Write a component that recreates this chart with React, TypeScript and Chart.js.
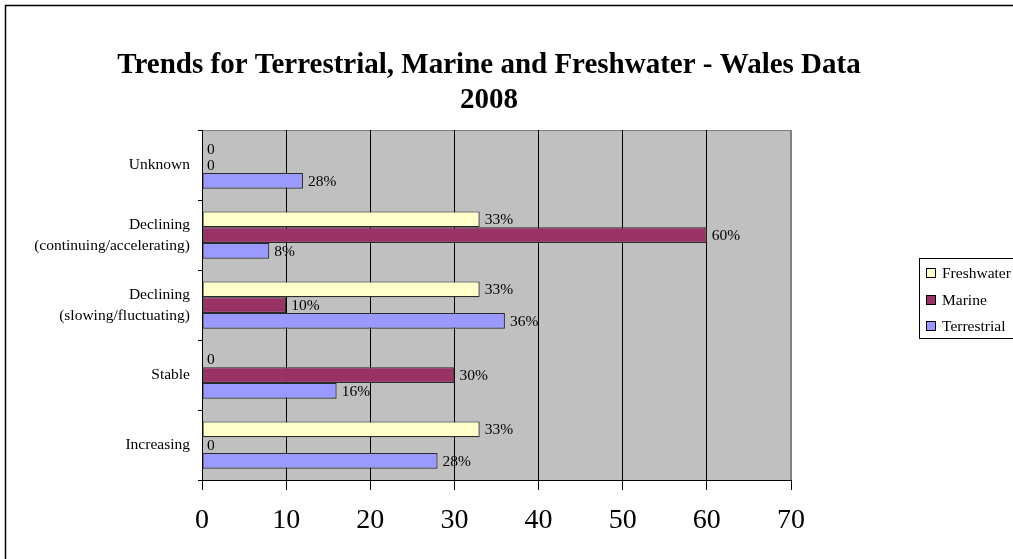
import React, { useEffect, useRef } from "react";
import { Chart, registerables } from "chart.js";

Chart.register(...registerables);

const categories: (string | string[])[] = [
  "Unknown",
  ["Declining", "(continuing/accelerating)"],
  ["Declining", "(slowing/fluctuating)"],
  "Stable",
  "Increasing",
];
const seriesNames = ["Freshwater", "Marine", "Terrestrial"];
const freshwater = [0, 33, 33, 0, 33];
const marine = [0, 60, 10, 30, 0];
const terrestrial = [12, 8, 36, 16, 28];
const freshwaterLabels = ["0", "33%", "33%", "0", "33%"];
const marineLabels = ["0", "60%", "10%", "30%", "0"];
const terrestrialLabels = ["28%", "8%", "36%", "16%", "28%"];
const xTicks = [0, 10, 20, 30, 40, 50, 60, 70];
const titleLines = ["Trends for Terrestrial, Marine and Freshwater - Wales Data", "2008"];

const colors = ["#FFFFCC", "#993366", "#9999FF"];
const FONT = '"Liberation Serif", "Times New Roman", serif';
const W = 1040;
const H = 600;

export default function App() {
  const ref = useRef<HTMLCanvasElement | null>(null);
  useEffect(() => {
    if (!ref.current) return;
    const allLabels = [freshwaterLabels, marineLabels, terrestrialLabels];
    const decor = {
      id: "decor",
      beforeDraw(chart: any) {
        const { ctx, chartArea: a } = chart;
        ctx.save();
        ctx.fillStyle = "#ffffff";
        ctx.fillRect(0, 0, chart.width, chart.height);
        ctx.strokeStyle = "#000000";
        ctx.lineWidth = 1.5;
        ctx.strokeRect(5.5, 5.5, chart.width + 20, chart.height + 20);
        ctx.fillStyle = "#C0C0C0";
        ctx.fillRect(a.left, a.top, a.right - a.left, a.bottom - a.top);
        ctx.strokeStyle = "#808080";
        ctx.lineWidth = 1;
        ctx.strokeRect(a.left + 0.5, a.top + 0.5, a.right - a.left - 1, a.bottom - a.top);
        // title
        ctx.fillStyle = "#000";
        ctx.font = `bold 29px ${FONT}`;
        ctx.textAlign = "center";
        ctx.textBaseline = "alphabetic";
        ctx.fillText(titleLines[0], 489, 73);
        ctx.fillText(titleLines[1], 489, 108);
        ctx.restore();
      },
      afterDatasetsDraw(chart: any) {
        const { ctx } = chart;
        ctx.save();
        ctx.font = `15.5px ${FONT}`;
        ctx.fillStyle = "#000";
        ctx.textAlign = "left";
        ctx.textBaseline = "middle";
        chart.data.datasets.forEach((ds: any, di: number) => {
          const meta = chart.getDatasetMeta(di);
          meta.data.forEach((el: any, i: number) => {
            ctx.fillText(allLabels[di][i], el.x + 5, el.y + 1);
          });
        });
        ctx.restore();
      },
      afterDraw(chart: any) {
        const { ctx } = chart;
        ctx.save();
        // legend
        ctx.fillStyle = "#fff";
        ctx.fillRect(919, 258, 200, 80);
        ctx.strokeStyle = "#000";
        ctx.lineWidth = 1;
        ctx.strokeRect(919.5, 258.5, 200, 80);
        ctx.font = `15.5px ${FONT}`;
        ctx.textBaseline = "middle";
        ctx.textAlign = "left";
        const ys = [273, 300, 326];
        seriesNames.forEach((n, i) => {
          ctx.fillStyle = colors[i];
          ctx.fillRect(926, ys[i] - 5, 10, 10);
          ctx.strokeStyle = "#000";
          ctx.strokeRect(926.5, ys[i] - 4.5, 9, 9);
          ctx.fillStyle = "#000";
          ctx.fillText(n, 942, ys[i] + 1);
        });
        ctx.restore();
      },
    };
    const datasets = [freshwater, marine, terrestrial].map((d, i) => ({
      label: seriesNames[i],
      data: d,
      backgroundColor: colors[i],
      borderColor: "#2a2a2a",
      borderWidth: (c: any) => (c.raw === 0 ? 0 : 1.2),
      borderSkipped: false as any,
      categoryPercentage: 0.675,
      barPercentage: 1.0,
    }));
    const chart = new Chart(ref.current, {
      type: "bar",
      data: { labels: categories as any, datasets },
      options: {
        indexAxis: "y",
        responsive: false,
        animation: false,
        devicePixelRatio: 1,
        layout: { padding: { left: 0, top: 130, right: W - 791, bottom: 50 } },
        plugins: { legend: { display: false }, tooltip: { enabled: false }, title: { display: false } },
        scales: {
          x: {
            type: "linear",
            min: 0,
            max: 70,
            afterBuildTicks: (s: any) => {
              s.ticks = xTicks.map((v) => ({ value: v }));
            },
            afterFit: (s: any) => {
              s.height = 70;
            },
            grid: {
              color: (c: any) => (c.tick && c.tick.value === 70 ? "#808080" : "#000"),
              tickColor: "#000",
              tickLength: 10,
              drawOnChartArea: true,
            },
            border: { color: "#000", width: 1 },
            ticks: { color: "#000", font: { family: FONT, size: 28 }, padding: 14 },
          },
          y: {
            type: "category",
            afterFit: (s: any) => {
              s.width = 202;
            },
            grid: { drawOnChartArea: false, color: "#000", tickLength: 4, offset: true },
            border: { color: "#000", width: 1 },
            ticks: { color: "#000", font: { family: FONT, size: 15.5, lineHeight: 1.35 }, padding: 8 },
          },
        },
      },
      plugins: [decor],
    });
    return () => chart.destroy();
  }, []);
  return (
    <div style={{ position: "fixed", left: 0, top: 0, width: 1013, height: 559, overflow: "hidden", background: "#fff" }}>
      <canvas ref={ref} width={W} height={H} style={{ display: "block" }} />
    </div>
  );
}
